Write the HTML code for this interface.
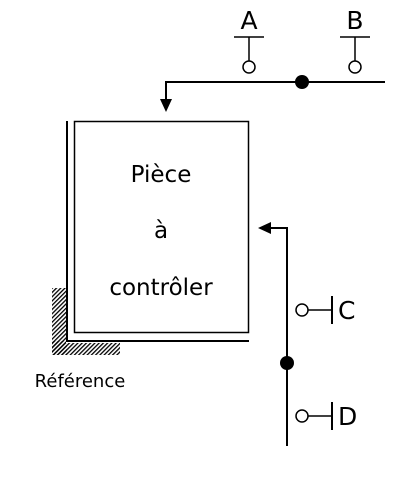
<!DOCTYPE html>
<html><head><meta charset="utf-8"><style>html,body{margin:0;padding:0;background:#fff}</style></head>
<body>
<svg width="411" height="473" xmlns="http://www.w3.org/2000/svg" font-family="DejaVu Sans, Liberation Sans, sans-serif">
<defs>
<pattern id="h" width="3" height="3" patternUnits="userSpaceOnUse" patternTransform="rotate(45)">
<rect width="1.3" height="3" fill="#000"/>
</pattern>
</defs>
<rect x="52" y="288" width="15" height="67" fill="url(#h)"/>
<rect x="52" y="341" width="68" height="14" fill="url(#h)"/>
<rect x="66" y="120" width="3" height="223" fill="#fff"/>
<rect x="66" y="340" width="184" height="3" fill="#fff"/>
<line x1="67" y1="121" x2="67" y2="342" stroke="#000" stroke-width="2"/>
<line x1="66" y1="341" x2="249" y2="341" stroke="#000" stroke-width="2"/>
<rect x="74.5" y="121.5" width="174" height="211" fill="#fff" stroke="#000" stroke-width="1.5"/>
<g font-size="23" text-anchor="middle" fill="#000">
<text x="161" y="182">Pièce</text>
<text x="161" y="238">à</text>
<text x="161" y="295">contrôler</text>
</g>
<text x="80" y="387" font-size="18" text-anchor="middle">Référence</text>
<!-- top -->
<line x1="165" y1="82" x2="385" y2="82" stroke="#000" stroke-width="2"/>
<line x1="166" y1="81" x2="166" y2="100" stroke="#000" stroke-width="2"/>
<polygon points="160,99 172,99 166,112" fill="#000"/>
<circle cx="302" cy="82" r="7" fill="#000"/>
<g stroke="#000" stroke-width="1.5" fill="#fff">
<line x1="234" y1="37" x2="264" y2="37"/><line x1="249" y1="37" x2="249" y2="61"/><circle cx="249" cy="67" r="6"/>
<line x1="340" y1="37" x2="370" y2="37"/><line x1="355" y1="37" x2="355" y2="61"/><circle cx="355" cy="67" r="6"/>
</g>
<g font-size="25" text-anchor="middle">
<text x="249" y="29">A</text><text x="355" y="29">B</text>
</g>
<!-- right -->
<line x1="287" y1="227" x2="287" y2="446" stroke="#000" stroke-width="2"/>
<line x1="270" y1="228" x2="288" y2="228" stroke="#000" stroke-width="2"/>
<polygon points="258,228 271,222 271,234" fill="#000"/>
<circle cx="287" cy="363" r="7" fill="#000"/>
<g stroke="#000" stroke-width="1.5" fill="#fff">
<circle cx="302" cy="310" r="6"/><line x1="308" y1="310" x2="332" y2="310"/><line x1="332" y1="296" x2="332" y2="324" stroke-width="2"/>
<circle cx="302" cy="416" r="6"/><line x1="308" y1="416" x2="332" y2="416"/><line x1="332" y1="402" x2="332" y2="430" stroke-width="2"/>
</g>
<g font-size="25">
<text x="338" y="319">C</text><text x="338" y="425">D</text>
</g>
</svg>
</body></html>
